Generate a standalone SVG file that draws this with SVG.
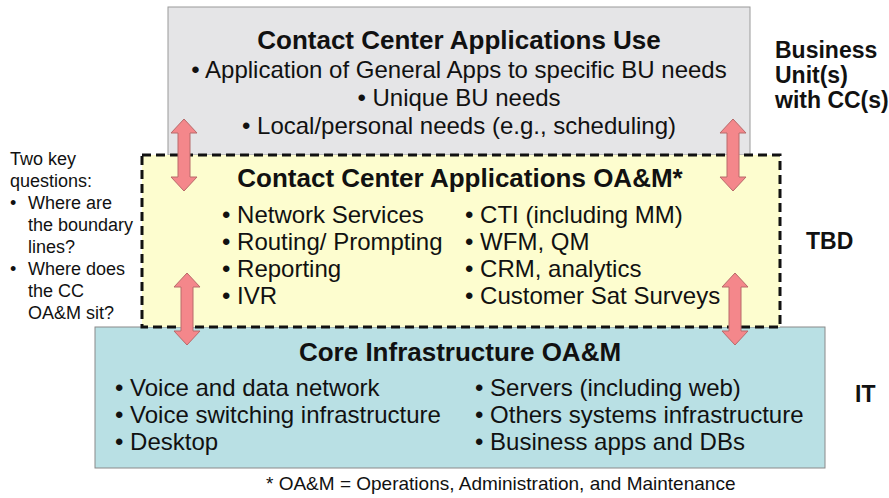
<svg xmlns="http://www.w3.org/2000/svg" width="889" height="498" viewBox="0 0 889 498">
  <defs>
    <style>
      .t { font-family: "Liberation Sans", Arial, sans-serif; fill: #111; }
      .h { font-size: 26px; font-weight: bold; text-anchor: middle; }
      .b { font-size: 24px; }
      .c { text-anchor: middle; }
      .side { font-size: 23px; font-weight: bold; }
      .note { font-size: 18px; }
      .foot { font-size: 19px; }
      .arrow { fill: #f4878b; stroke: #b86a6a; stroke-width: 1; }
    </style>
    <!-- double-headed vertical arrow, centred on x=0, spanning y=0..72 -->
    <path id="dbl" d="M0,0 L13,14 L6,14 L6,58 L13,58 L0,72 L-13,58 L-6,58 L-6,14 L-13,14 Z"/>
  </defs>

  <g id="left-notes" class="t note">
    <text x="10" y="165">Two key</text>
    <text x="10" y="187">questions:</text>
    <text x="10" y="209">•</text>
    <text x="28" y="209">Where are</text>
    <text x="28" y="231">the boundary</text>
    <text x="28" y="253">lines?</text>
    <text x="10" y="275">•</text>
    <text x="28" y="275">Where does</text>
    <text x="28" y="297">the CC</text>
    <text x="28" y="319">OA&amp;M sit?</text>
  </g>

  <g id="use-layer">
    <rect x="168" y="7" width="582" height="148" fill="#e5e5e7" stroke="#9a9a9a" stroke-width="1"/>
    <text class="t h" x="459" y="49">Contact Center Applications Use</text>
    <text class="t b c" x="459" y="78">• Application of General Apps to specific BU needs</text>
    <text class="t b c" x="459" y="106">• Unique BU needs</text>
    <text class="t b c" x="459" y="134">• Local/personal needs (e.g., scheduling)</text>
  </g>

  <g id="core-layer">
    <rect x="95" y="327" width="730" height="141" fill="#b9e0e4" stroke="#8a8a8a" stroke-width="1"/>
    <text class="t h" x="460" y="361">Core Infrastructure OA&amp;M</text>
    <text class="t b" x="115" y="396">• Voice and data network</text>
    <text class="t b" x="115" y="423">• Voice switching infrastructure</text>
    <text class="t b" x="115" y="450">• Desktop</text>
    <text class="t b" x="475" y="396">• Servers (including web)</text>
    <text class="t b" x="475" y="423">• Others systems infrastructure</text>
    <text class="t b" x="475" y="450">• Business apps and DBs</text>
  </g>

  <g id="oam-layer">
    <rect x="142" y="155" width="638" height="172" fill="#fdfdcf" stroke="#111" stroke-width="3" stroke-dasharray="9,5"/>
    <text class="t h" x="460" y="187">Contact Center Applications OA&amp;M*</text>
    <text class="t b" x="222" y="223">• Network Services</text>
    <text class="t b" x="222" y="250">• Routing/ Prompting</text>
    <text class="t b" x="222" y="277">• Reporting</text>
    <text class="t b" x="222" y="304">• IVR</text>
    <text class="t b" x="465" y="223">• CTI (including MM)</text>
    <text class="t b" x="465" y="250">• WFM, QM</text>
    <text class="t b" x="465" y="277">• CRM, analytics</text>
    <text class="t b" x="465" y="304">• Customer Sat Surveys</text>
  </g>

  <g id="connectors" class="arrow">
    <use href="#dbl" x="184" y="119"/>
    <use href="#dbl" x="733" y="119"/>
    <use href="#dbl" x="187" y="273"/>
    <use href="#dbl" x="735" y="273"/>
  </g>

  <g id="side-labels" class="t side">
    <text x="775" y="58">Business</text>
    <text x="775" y="83">Unit(s)</text>
    <text x="775" y="108">with CC(s)</text>
    <text x="806" y="249">TBD</text>
    <text x="855" y="402">IT</text>
  </g>

  <g id="footnote">
    <text class="t foot" x="266" y="490">*  OA&amp;M = Operations, Administration, and Maintenance</text>
  </g>
</svg>
